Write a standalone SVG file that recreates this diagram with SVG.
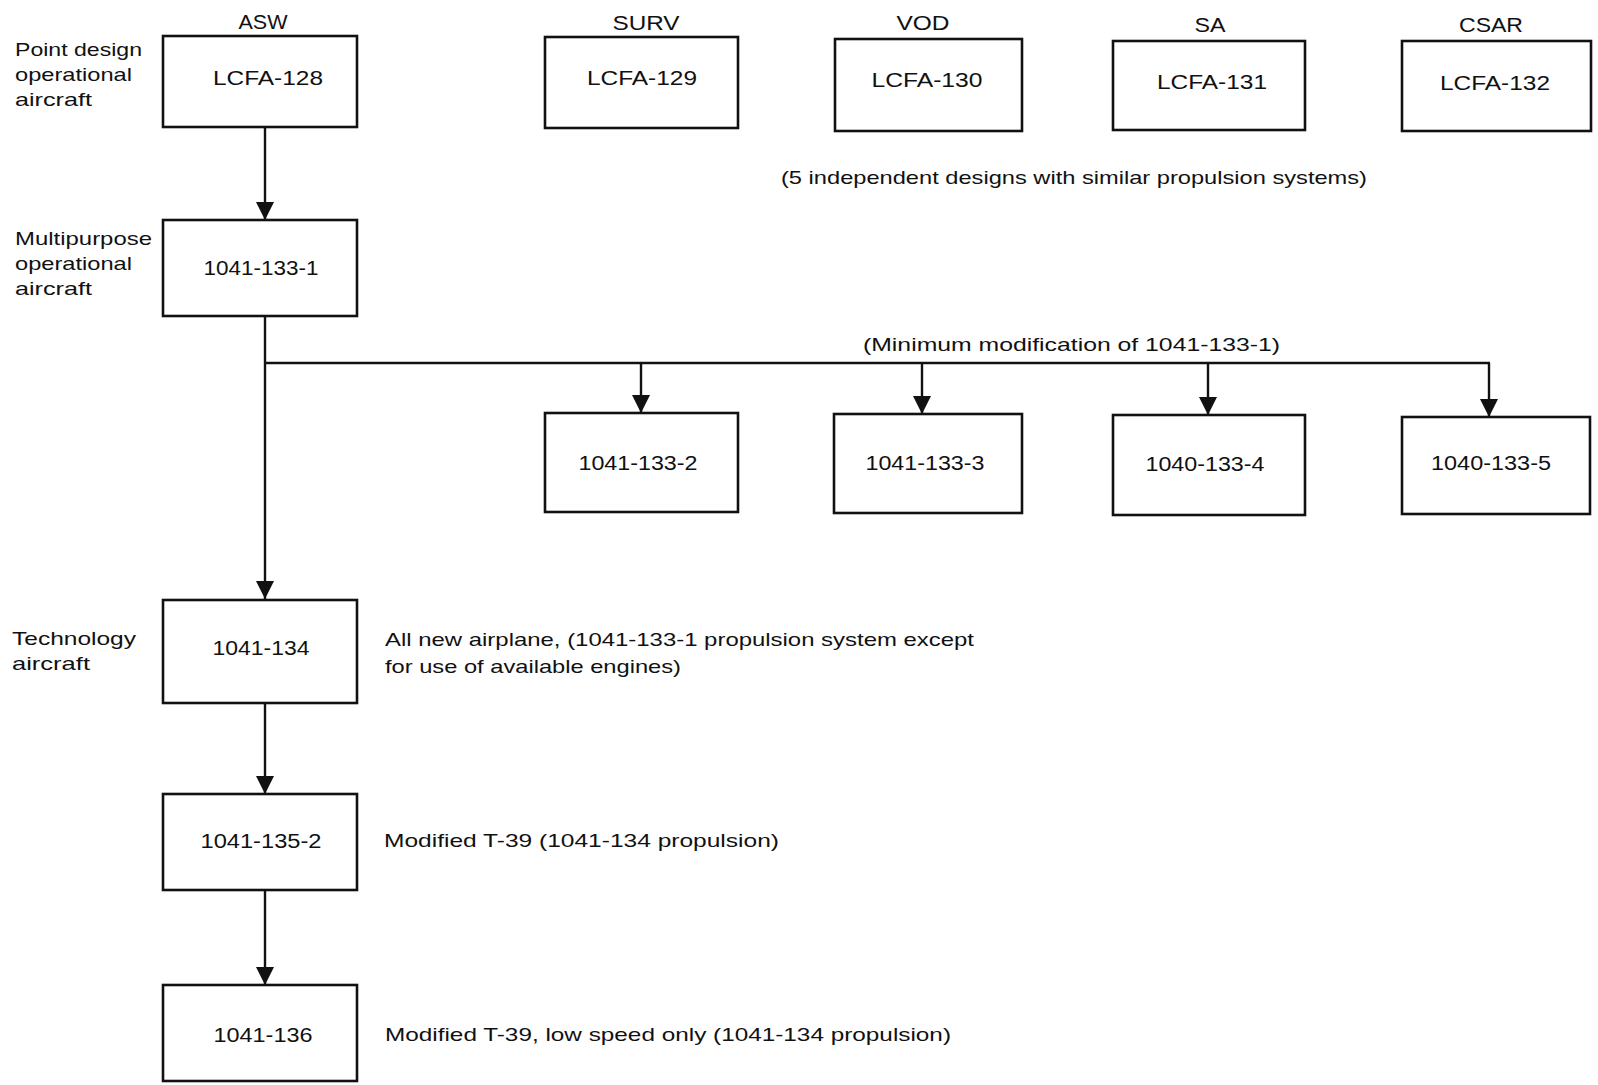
<svg xmlns="http://www.w3.org/2000/svg" width="1598" height="1085" viewBox="0 0 1598 1085">
<style>
text{font-family:"Liberation Sans",Arial,sans-serif;fill:#111;}
.bx{font-size:20px;text-anchor:middle;}
.hd{font-size:19.5px;text-anchor:middle;}
.lb{font-size:18.5px;}
.ds{font-size:18.5px;}
.node rect{fill:#fff;stroke:#111;stroke-width:2.6;}
.conn line{stroke:#111;stroke-width:2.4;}
</style>
<defs>
<marker id="ah" markerUnits="userSpaceOnUse" markerWidth="18" markerHeight="18" refX="18" refY="9" orient="auto">
<path d="M0,0 L18,9 L0,18 z" fill="#111"/>
</marker>
</defs>
<rect width="1598" height="1085" fill="#fff"/>

<g id="connectors" class="conn">
<line x1="265" y1="127" x2="265" y2="220" marker-end="url(#ah)"/>
<line x1="265" y1="316" x2="265" y2="599" marker-end="url(#ah)"/>
<line x1="264" y1="363" x2="1490" y2="363"/>
<line x1="641" y1="363" x2="641" y2="413" marker-end="url(#ah)"/>
<line x1="922" y1="363" x2="922" y2="414" marker-end="url(#ah)"/>
<line x1="1208" y1="363" x2="1208" y2="415" marker-end="url(#ah)"/>
<line x1="1489" y1="363" x2="1489" y2="417" marker-end="url(#ah)"/>
<line x1="265" y1="703" x2="265" y2="794" marker-end="url(#ah)"/>
<line x1="265" y1="890" x2="265" y2="985" marker-end="url(#ah)"/>
</g>

<g id="labels">
<text class="hd" x="263" y="29" textLength="49" lengthAdjust="spacingAndGlyphs">ASW</text>
<text class="hd" x="646" y="30" textLength="67" lengthAdjust="spacingAndGlyphs">SURV</text>
<text class="hd" x="923" y="30" textLength="53" lengthAdjust="spacingAndGlyphs">VOD</text>
<text class="hd" x="1210" y="32" textLength="31" lengthAdjust="spacingAndGlyphs">SA</text>
<text class="hd" x="1491" y="32" textLength="64" lengthAdjust="spacingAndGlyphs">CSAR</text>

<text class="lb" x="15" y="56" textLength="127" lengthAdjust="spacingAndGlyphs">Point design</text>
<text class="lb" x="15" y="81" textLength="117" lengthAdjust="spacingAndGlyphs">operational</text>
<text class="lb" x="15" y="106" textLength="77" lengthAdjust="spacingAndGlyphs">aircraft</text>

<text class="lb" x="15" y="245" textLength="137" lengthAdjust="spacingAndGlyphs">Multipurpose</text>
<text class="lb" x="15" y="270" textLength="117" lengthAdjust="spacingAndGlyphs">operational</text>
<text class="lb" x="15" y="295" textLength="77" lengthAdjust="spacingAndGlyphs">aircraft</text>

<text class="lb" x="12" y="645" textLength="124" lengthAdjust="spacingAndGlyphs">Technology</text>
<text class="lb" x="12" y="670" textLength="78" lengthAdjust="spacingAndGlyphs">aircraft</text>

<text class="ds" x="781" y="184" textLength="586" lengthAdjust="spacingAndGlyphs">(5 independent designs with similar propulsion systems)</text>
<text class="ds" x="863" y="351" textLength="417" lengthAdjust="spacingAndGlyphs">(Minimum modification of 1041-133-1)</text>
<text class="ds" x="385" y="646" textLength="589" lengthAdjust="spacingAndGlyphs">All new airplane, (1041-133-1 propulsion system except</text>
<text class="ds" x="385" y="673" textLength="296" lengthAdjust="spacingAndGlyphs">for use of available engines)</text>
<text class="ds" x="384" y="847" textLength="395" lengthAdjust="spacingAndGlyphs">Modified T-39 (1041-134 propulsion)</text>
<text class="ds" x="385" y="1041" textLength="566" lengthAdjust="spacingAndGlyphs">Modified T-39, low speed only (1041-134 propulsion)</text>
</g>

<g id="n-lcfa128" class="node"><rect x="163" y="36" width="194" height="91"/><text class="bx" x="268" y="85" textLength="110" lengthAdjust="spacingAndGlyphs">LCFA-128</text></g>
<g id="n-lcfa129" class="node"><rect x="545" y="37" width="193" height="91"/><text class="bx" x="642" y="85" textLength="110" lengthAdjust="spacingAndGlyphs">LCFA-129</text></g>
<g id="n-lcfa130" class="node"><rect x="835" y="39" width="187" height="92"/><text class="bx" x="927" y="87" textLength="111" lengthAdjust="spacingAndGlyphs">LCFA-130</text></g>
<g id="n-lcfa131" class="node"><rect x="1113" y="41" width="192" height="89"/><text class="bx" x="1212" y="89" textLength="110" lengthAdjust="spacingAndGlyphs">LCFA-131</text></g>
<g id="n-lcfa132" class="node"><rect x="1402" y="41" width="189" height="90"/><text class="bx" x="1495" y="90" textLength="110" lengthAdjust="spacingAndGlyphs">LCFA-132</text></g>

<g id="n-1041-133-1" class="node"><rect x="163" y="220" width="194" height="96"/><text class="bx" x="261" y="275" textLength="115" lengthAdjust="spacingAndGlyphs">1041-133-1</text></g>

<g id="n-1041-133-2" class="node"><rect x="545" y="413" width="193" height="99"/><text class="bx" x="638" y="470" textLength="119" lengthAdjust="spacingAndGlyphs">1041-133-2</text></g>
<g id="n-1041-133-3" class="node"><rect x="834" y="414" width="188" height="99"/><text class="bx" x="925" y="470" textLength="119" lengthAdjust="spacingAndGlyphs">1041-133-3</text></g>
<g id="n-1040-133-4" class="node"><rect x="1113" y="415" width="192" height="100"/><text class="bx" x="1205" y="471" textLength="119" lengthAdjust="spacingAndGlyphs">1040-133-4</text></g>
<g id="n-1040-133-5" class="node"><rect x="1402" y="417" width="188" height="97"/><text class="bx" x="1491" y="470" textLength="120" lengthAdjust="spacingAndGlyphs">1040-133-5</text></g>

<g id="n-1041-134" class="node"><rect x="163" y="600" width="194" height="103"/><text class="bx" x="261" y="655" textLength="97" lengthAdjust="spacingAndGlyphs">1041-134</text></g>
<g id="n-1041-135-2" class="node"><rect x="163" y="794" width="194" height="96"/><text class="bx" x="261" y="848" textLength="121" lengthAdjust="spacingAndGlyphs">1041-135-2</text></g>
<g id="n-1041-136" class="node"><rect x="163" y="985" width="194" height="96"/><text class="bx" x="263" y="1042" textLength="99" lengthAdjust="spacingAndGlyphs">1041-136</text></g>
</svg>
